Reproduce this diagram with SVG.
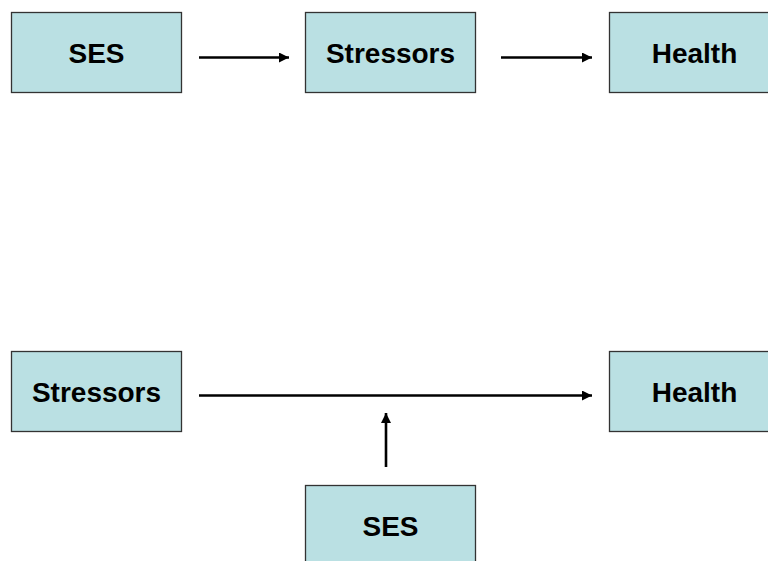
<svg xmlns="http://www.w3.org/2000/svg" width="768" height="561" viewBox="0 0 768 561">
<defs>
<style>
.box{fill:#BAE0E3;stroke:#333333;stroke-width:1.3}
.lbl{font-family:"Liberation Sans",Arial,sans-serif;font-weight:bold;font-size:28px;fill:#000;text-anchor:middle}
.conn{stroke:#000;stroke-width:2.6;fill:none}
</style>
<marker id="ah" viewBox="0 0 10 10" refX="10" refY="5" markerWidth="11" markerHeight="10" markerUnits="userSpaceOnUse" orient="auto">
<path d="M0,0 L10,5 L0,10 z" fill="#000"/>
</marker>
</defs>
<rect width="768" height="561" fill="#fff"/>
<g id="top-ses"><rect class="box" x="11.5" y="12.5" width="170" height="80"/><text class="lbl" x="96.5" y="62.5">SES</text></g>
<g id="top-stressors"><rect class="box" x="305.5" y="12.5" width="170" height="80"/><text class="lbl" x="390.5" y="62.5">Stressors</text></g>
<g id="top-health"><rect class="box" x="609.5" y="12.5" width="170" height="80"/><text class="lbl" x="694.5" y="62.5">Health</text></g>
<g id="bot-stressors"><rect class="box" x="11.5" y="351.5" width="170" height="80"/><text class="lbl" x="96.5" y="401.5">Stressors</text></g>
<g id="bot-health"><rect class="box" x="609.5" y="351.5" width="170" height="80"/><text class="lbl" x="694.5" y="401.5">Health</text></g>
<g id="bot-ses"><rect class="box" x="305.5" y="485.5" width="170" height="80"/><text class="lbl" x="390.5" y="535.5">SES</text></g>
<g id="connectors">
<line class="conn" x1="199" y1="57.5" x2="289" y2="57.5" marker-end="url(#ah)"/>
<line class="conn" x1="501" y1="57.5" x2="592" y2="57.5" marker-end="url(#ah)"/>
<line class="conn" x1="199" y1="395.5" x2="592" y2="395.5" marker-end="url(#ah)"/>
<line class="conn" x1="386" y1="467" x2="386" y2="413" marker-end="url(#ah)"/>
</g>
</svg>
